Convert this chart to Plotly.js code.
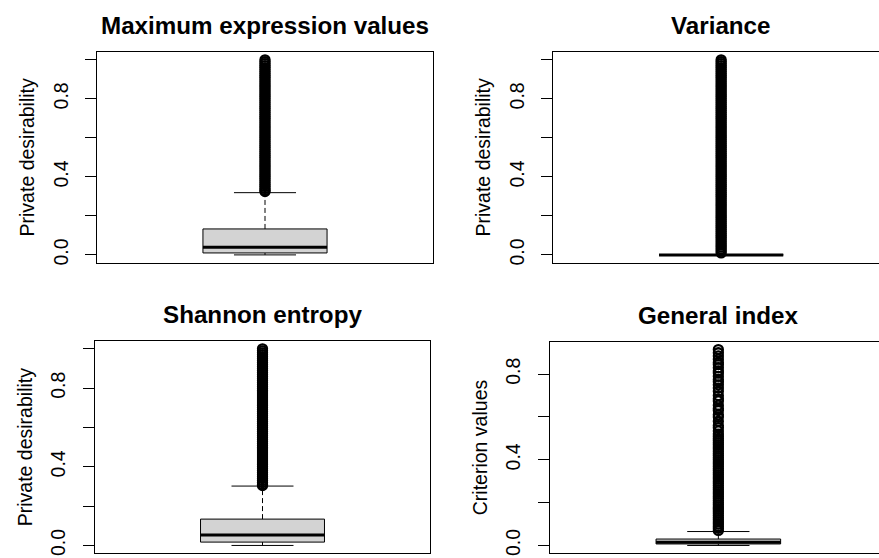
<!DOCTYPE html>
<html><head><meta charset="utf-8">
<script src="https://cdn.plot.ly/plotly-3.0.1.min.js"></script>
<style>html,body{margin:0;padding:0;overflow:hidden;background:#fff}#chart{width:900px;height:580px}</style>
</head><body><div id="chart"></div>
<script>
// ---- data ----
const panelTitles = ['Maximum expression values', 'Variance', 'Shannon entropy', 'General index'];
const yTitles = ['Private desirability', 'Private desirability', 'Private desirability', 'Criterion values'];
const lowerWhisker = [0.000, 0.000, 0.000, 0.000];
const q1 = [0.010, 0.000, 0.017, 0.007];
const median = [0.039, 0.000, 0.053, 0.015];
const q3 = [0.133, 0.000, 0.134, 0.030];
const upperWhisker = [0.319, 0.000, 0.302, 0.065];
const outliersMax = [0.325,0.33,0.34,0.35,0.36,0.37,0.38,0.39,0.40,0.41,0.42,0.43,0.44,0.45,0.46,0.47,0.48,0.49,0.50,0.51,0.52,0.53,0.54,0.55,0.56,0.57,0.58,0.59,0.60,0.61,0.62,0.63,0.64,0.65,0.66,0.67,0.68,0.69,0.70,0.71,0.72,0.73,0.74,0.75,0.76,0.77,0.78,0.79,0.80,0.81,0.82,0.83,0.84,0.85,0.86,0.87,0.88,0.89,0.90,0.91,0.92,0.93,0.94,0.95,0.96,0.97,0.98,0.99,1.00];
const outliersVariance = [0.01,0.02,0.03,0.04,0.05,0.06,0.07,0.08,0.09,0.10,0.11,0.12,0.13,0.14,0.15,0.16,0.17,0.18,0.19,0.20,0.21,0.22,0.23,0.24,0.25,0.26,0.27,0.28,0.29,0.30,0.31,0.32,0.33,0.34,0.35,0.36,0.37,0.38,0.39,0.40,0.41,0.42,0.43,0.44,0.45,0.46,0.47,0.48,0.49,0.50,0.51,0.52,0.53,0.54,0.55,0.56,0.57,0.58,0.59,0.60,0.61,0.62,0.63,0.64,0.65,0.66,0.67,0.68,0.69,0.70,0.71,0.72,0.73,0.74,0.75,0.76,0.77,0.78,0.79,0.80,0.81,0.82,0.83,0.84,0.85,0.86,0.87,0.88,0.89,0.90,0.91,0.92,0.93,0.94,0.95,0.96,0.97,0.98,0.99,1.00];
const outliersShannon = [0.305,0.31,0.32,0.33,0.34,0.35,0.36,0.37,0.38,0.39,0.40,0.41,0.42,0.43,0.44,0.45,0.46,0.47,0.48,0.49,0.50,0.51,0.52,0.53,0.54,0.55,0.56,0.57,0.58,0.59,0.60,0.61,0.62,0.63,0.64,0.65,0.66,0.67,0.68,0.69,0.70,0.71,0.72,0.73,0.74,0.75,0.76,0.77,0.78,0.79,0.80,0.81,0.82,0.83,0.84,0.85,0.86,0.87,0.88,0.89,0.90,0.91,0.92,0.93,0.94,0.95,0.96,0.97,0.98,0.99,1.00];
const outliersGeneral = [0.07,0.08,0.09,0.10,0.11,0.12,0.13,0.14,0.15,0.16,0.17,0.18,0.19,0.20,0.21,0.22,0.23,0.24,0.25,0.26,0.27,0.28,0.29,0.30,0.31,0.32,0.33,0.34,0.35,0.36,0.37,0.38,0.39,0.40,0.41,0.42,0.43,0.44,0.45,0.46,0.47,0.48,0.49,0.50,0.51,0.52,0.535,0.55,0.56,0.58,0.60,0.61,0.63,0.64,0.655,0.675,0.685,0.70,0.72,0.735,0.75,0.765,0.775,0.79,0.805,0.815,0.83,0.845,0.855,0.87,0.885,0.90,0.915];
const tickVals = [0.0, 0.2, 0.4, 0.6, 0.8, 1.0];
const tickText = ['0.0', '', '0.4', '', '0.8', ''];

const outliers = [outliersMax, outliersVariance, outliersShannon, outliersGeneral];

// ---- layout geometry (plot is 900x580, page window crops it) ----
const W = 900, H = 580;
const frames = [ // left, right, top, bottom in px
  [97.3, 432.7, 52, 262.7],
  [553.3, 889, 52, 262.7],
  [95, 430, 341, 553.3],
  [550, 886.7, 341.7, 553.3]
];
const font = 'Liberation Sans, Arial, Helvetica, sans-serif';
const halfBox = 0.185, halfStaple = 0.0925, centre = 1;

const traces = [];
const layout = {
  width: W, height: H, margin: {l: 0, r: 0, t: 0, b: 0},
  paper_bgcolor: '#fff', plot_bgcolor: '#fff', showlegend: false,
  font: {family: font, color: '#000'},
  annotations: []
};

panelTitles.forEach((title, i) => {
  const xa = i === 0 ? 'x' : 'x' + (i + 1);
  const ya = i === 0 ? 'y' : 'y' + (i + 1);
  const line = {color: '#000', width: 1};
  // box
  traces.push({type: 'scatter', mode: 'lines', xaxis: xa, yaxis: ya, hoverinfo: 'skip',
    x: [centre - halfBox, centre + halfBox, centre + halfBox, centre - halfBox, centre - halfBox],
    y: [q1[i], q1[i], q3[i], q3[i], q1[i]],
    fill: 'toself', fillcolor: '#D3D3D3', line: line});
  // whiskers (dashed)
  traces.push({type: 'scatter', mode: 'lines', xaxis: xa, yaxis: ya, hoverinfo: 'skip',
    x: [centre, centre], y: [q3[i], upperWhisker[i]], line: {color: '#000', width: 1, dash: '5px,3px'}});
  traces.push({type: 'scatter', mode: 'lines', xaxis: xa, yaxis: ya, hoverinfo: 'skip',
    x: [centre, centre], y: [lowerWhisker[i], q1[i]], line: {color: '#000', width: 1, dash: '5px,3px'}});
  // staples
  traces.push({type: 'scatter', mode: 'lines', xaxis: xa, yaxis: ya, hoverinfo: 'skip',
    x: [centre - halfStaple, centre + halfStaple], y: [upperWhisker[i], upperWhisker[i]], line: line});
  traces.push({type: 'scatter', mode: 'lines', xaxis: xa, yaxis: ya, hoverinfo: 'skip',
    x: [centre - halfStaple, centre + halfStaple], y: [lowerWhisker[i], lowerWhisker[i]], line: line});
  // median
  traces.push({type: 'scatter', mode: 'lines', xaxis: xa, yaxis: ya, hoverinfo: 'skip',
    x: [centre - halfBox, centre + halfBox], y: [median[i], median[i]], line: {color: '#000', width: 3}});
  // outliers
  traces.push({type: 'scatter', mode: 'markers', xaxis: xa, yaxis: ya,
    x: outliers[i].map(() => centre), y: outliers[i],
    marker: {symbol: 'circle-open', size: 9, color: '#000', line: {width: 2.3, color: '#000'}}});

  const all = [lowerWhisker[i], upperWhisker[i], q1[i], q3[i], ...outliers[i]];
  const lo = Math.min(...all), hi = Math.max(...all);
  const pad = 0.04 * (hi - lo);
  const f = frames[i];
  const xKey = i === 0 ? 'xaxis' : 'xaxis' + (i + 1);
  const yKey = i === 0 ? 'yaxis' : 'yaxis' + (i + 1);
  layout[xKey] = {
    domain: [f[0] / W, f[1] / W], range: [0.5, 1.5], anchor: ya,
    showticklabels: false, ticks: '', showgrid: false, zeroline: false,
    showline: true, mirror: true, linecolor: '#000', linewidth: 1, fixedrange: true
  };
  layout[yKey] = {
    domain: [1 - f[3] / H, 1 - f[2] / H], range: [lo - pad, hi + pad], anchor: xa,
    tickmode: 'array', tickvals: tickVals, ticktext: tickText, tickangle: -90,
    ticks: 'outside', ticklen: 11, tickwidth: 1, tickcolor: '#000',
    tickfont: {family: font, size: 19.5, color: '#000'}, ticklabelstandoff: 10,
    showgrid: false, zeroline: false, showline: true, mirror: true,
    linecolor: '#000', linewidth: 1, fixedrange: true,
    title: {text: yTitles[i], font: {family: font, size: 19.5, color: '#000'}, standoff: 9}
  };
  layout.annotations.push({
    text: '<b>' + title + '</b>', xref: 'paper', yref: 'paper',
    x: (f[0] + f[1]) / 2 / W, y: 1 - f[2] / H, xanchor: 'center', yanchor: 'bottom',
    yshift: 11, showarrow: false, font: {family: font, size: 24.2, color: '#000'}
  });
});

Plotly.newPlot('chart', traces, layout, {staticPlot: true, displayModeBar: false});
</script>
</body></html>
